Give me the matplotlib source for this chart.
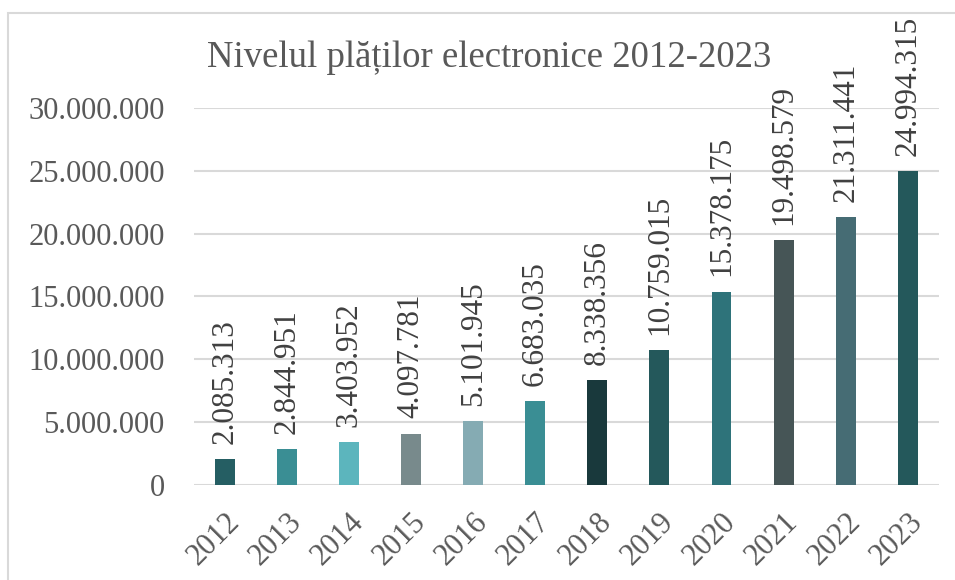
import matplotlib.pyplot as plt
from matplotlib.patches import Rectangle
from matplotlib.ticker import FuncFormatter, MultipleLocator

years = ['2012', '2013', '2014', '2015', '2016', '2017',
         '2018', '2019', '2020', '2021', '2022', '2023']
values = [2085313, 2844951, 3403952, 4097781, 5101945, 6683035,
          8338356, 10759015, 15378175, 19498579, 21311441, 24994315]
colors = ['#255E63', '#3A8E94', '#5CB5BD', '#788A8C', '#85ABB3', '#3A8E94',
          '#19393C', '#24585B', '#2E737A', '#465556', '#466C74', '#24585B']


def dots(v, pos=None):
    return f'{int(v):,}'.replace(',', '.')


plt.rcParams['font.family'] = ['Liberation Serif', 'DejaVu Serif']
txt = '#595959'

fig = plt.figure(figsize=(9.55, 5.8), dpi=100)
# chart frame (only left and top edges fall inside the picture)
fig.patches.append(Rectangle((8 / 955, -0.05), 1.1, 1.05 - 13 / 580,
                             transform=fig.transFigure, fill=False,
                             edgecolor='#D9D9D9', linewidth=1.5))

ax = fig.add_axes([0.203, 0.1638, 0.78, 0.65])
x = range(len(years))
ax.bar(x, values, width=0.32, color=colors, zorder=3)

for i, v in enumerate(values):
    ax.annotate(dots(v), (i, v), xytext=(0, 11), textcoords='offset points',
                rotation=90, ha='center', va='bottom', fontsize=22.5,
                color='#404040', clip_on=False)

ax.set_xlim(-0.5, len(years) - 0.5)
ax.set_ylim(0, 30000000)
ax.yaxis.set_major_locator(MultipleLocator(5000000))
ax.yaxis.set_major_formatter(FuncFormatter(dots))
ax.set_xticks(list(x))
ax.set_xticklabels(years, rotation=45, ha='right', rotation_mode='anchor')
ax.tick_params(axis='both', length=0, labelsize=22, labelcolor=txt)
ax.tick_params(axis='y', pad=21)
ax.tick_params(axis='x', pad=16)
ax.grid(axis='y', color='#D9D9D9', linewidth=1.5, zorder=0)
for s in ax.spines.values():
    s.set_visible(False)

fig.text(0.512, 0.9, 'Nivelul plăților electronice 2012-2023',
         ha='center', va='center', fontsize=26.5, color=txt)

fig.savefig('out.png', dpi=100)
